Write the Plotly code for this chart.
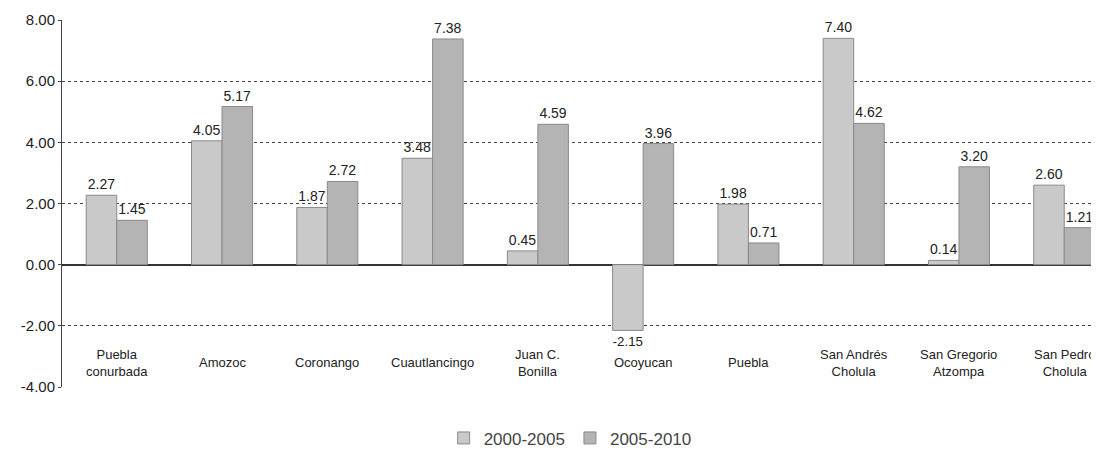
import plotly.graph_objects as go

categories = ["Puebla<br>conurbada", "Amozoc", "Coronango", "Cuautlancingo", "Juan C.<br>Bonilla",
              "Ocoyucan", "Puebla", "San Andrés<br>Cholula", "San Gregorio<br>Atzompa", "San Pedro<br>Cholula"]
series_names = ["2000-2005", "2005-2010"]
v_2000_2005 = [2.27, 4.05, 1.87, 3.48, 0.45, -2.15, 1.98, 7.40, 0.14, 2.60]
v_2005_2010 = [1.45, 5.17, 2.72, 7.38, 4.59, 3.96, 0.71, 4.62, 3.20, 1.21]
y_ticks = [-4, -2, 0, 2, 4, 6, 8]

xs = list(range(len(categories)))
font = "Liberation Sans, Arial, sans-serif"

fig = go.Figure()
fig.add_trace(go.Bar(x=xs, y=v_2000_2005, name=series_names[0],
                     marker=dict(color="#c9c9c9", line=dict(color="#8a8a8a", width=1)),
                     text=[f"{v:.2f}" for v in v_2000_2005], textposition="outside",
                     textfont=dict(size=14, color="#222", family=font), cliponaxis=False))
fig.add_trace(go.Bar(x=xs, y=v_2005_2010, name=series_names[1],
                     marker=dict(color="#b4b4b4", line=dict(color="#8a8a8a", width=1)),
                     text=[f"{v:.2f}" for v in v_2005_2010], textposition="outside",
                     textfont=dict(size=14, color="#222", family=font), cliponaxis=False))

for i, c in enumerate(categories):
    fig.add_annotation(x=i, y=-3.2, xref="x", yref="y", text=c, showarrow=False,
                       font=dict(size=13, color="#222", family=font), yanchor="middle")

fig.update_layout(
    width=1091, height=442,
    margin=dict(l=54, r=0, t=12, b=63, autoexpand=False),
    paper_bgcolor="white", plot_bgcolor="white",
    barmode="group", bargap=0.42, bargroupgap=0,
    font=dict(family=font, color="#222"),
    showlegend=True,
    legend=dict(orientation="h", x=0.49, xanchor="center", y=-0.14, yanchor="middle",
                font=dict(size=17, color="#444", family=font), itemwidth=30),
)
fig.update_xaxes(range=[-0.52, 9.33], showticklabels=False, showgrid=False, zeroline=False,
                 showline=False, automargin=False)
fig.update_yaxes(range=[-4, 8], tickvals=y_ticks, ticktext=[f"{t:.2f}" for t in y_ticks],
                 tickfont=dict(size=15, color="#222", family=font), automargin=False,
                 showgrid=True, gridcolor="#444", gridwidth=1, griddash="dot",
                 zeroline=True, zerolinecolor="#333", zerolinewidth=1.5,
                 showline=True, linecolor="#444", linewidth=1, ticks="outside", ticklen=3,
                 tickcolor="#444")

fig.write_html("out.html")
